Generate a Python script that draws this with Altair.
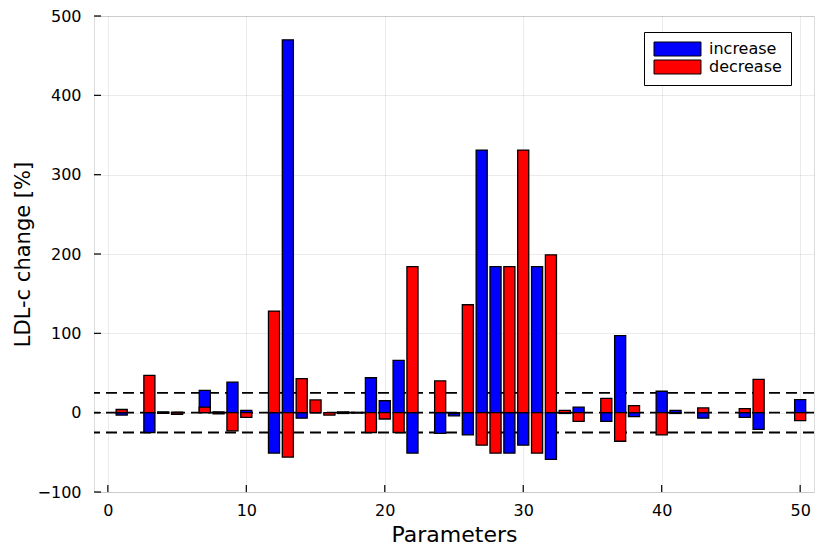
import altair as alt
import pandas as pd

params = [1, 3, 4, 5, 7, 8, 9, 10, 12, 13, 14, 15, 16, 17, 18, 19, 20, 21, 22, 24,
          25, 26, 27, 28, 29, 30, 31, 32, 33, 34, 36, 37, 38, 40, 41, 43, 46, 47, 50]
increase = [-3, -25, 1, 0.5, 28, 1, 38.5, 3, -51, 470, -7, 0, 0, 1, 0.5, 44, 15, 66, -51, -26,
            -4, -28, 331, 184, -51, -41, 184, -59, -1, 7, -11, 97, -5, 27, 3, -7, -6, -21, 16.5]
decrease = [4, 47, -1, -2, 7, -1.5, -23, -6, 128, -56, 43, 16, -3, -1, -0.5, -25, -8, -25, 184, 40,
            -1, 136, -41, -51, 184, 331, -51, 199, 3, -11, 18, -36, 9, -28, -1, 6, 5, 42, -10]
thresholds = [25, 0, -25]
x_ticks = [0, 10, 20, 30, 40, 50]
y_ticks = [-100, 0, 100, 200, 300, 400, 500]

series_names = ["increase", "decrease"]
series_colors = ["#0000FF", "#FF0000"]

bars = pd.DataFrame(
    {"param": params * 2,
     "val": increase + decrease,
     "series": ["increase"] * len(params) + ["decrease"] * len(params)}
)
thr = pd.DataFrame({"v": thresholds})
xt = pd.DataFrame({"t": x_ticks})
yt = pd.DataFrame({"t": y_ticks})

W, H = 720, 476
xscale = alt.Scale(domain=[-1, 51], nice=False, zero=False)
yscale = alt.Scale(domain=[-100, 500], nice=False, zero=False)

font = "DejaVu Sans"

xaxis = alt.Axis(values=x_ticks, title="Parameters", grid=True, gridColor="#000000",
                 gridOpacity=0.08, gridWidth=1, ticks=False, tickSize=0, domain=False,
                 labelFontSize=16, labelPadding=10, labelColor="black", labelFont=font,
                 titleFontSize=22, titleFontWeight="normal", titleFont=font,
                 titleColor="black", titlePadding=6, labelFlush=False)
yaxis = alt.Axis(values=y_ticks, title="LDL-c change [%]", grid=True, gridColor="#000000",
                 gridOpacity=0.08, gridWidth=1, ticks=False, tickSize=0, domain=False,
                 labelFontSize=16, labelPadding=13, labelColor="black", labelFont=font,
                 titleFontSize=21, titleFontWeight="normal", titleFont=font,
                 titleColor="black", titlePadding=4, labelFlush=False)

dashed = alt.Chart(thr).mark_rule(
    strokeDash=[11, 6], strokeWidth=1.8, color="black"
).encode(
    y=alt.Y("v:Q", scale=yscale, axis=yaxis),
)

bar_layer = alt.Chart(bars).transform_calculate(
    lo="datum.param - 0.4", hi="datum.param + 0.4"
).mark_bar(stroke="black", strokeWidth=1.3).encode(
    x=alt.X("lo:Q", scale=xscale, axis=xaxis),
    x2="hi:Q",
    y=alt.Y("val:Q", scale=yscale, axis=yaxis),
    y2=alt.datum(0),
    color=alt.Color(
        "series:N",
        scale=alt.Scale(domain=series_names, range=series_colors),
        sort=series_names,
        legend=alt.Legend(
            title=None, orient="none", legendX=550, legendY=16,
            padding=9, strokeColor="black", fillColor="white",
            symbolType="M-1,-1H5.71V1H-1Z", symbolSize=196,
            symbolStrokeColor="black", symbolStrokeWidth=1, symbolOpacity=1,
            labelFontSize=16, labelFont=font, labelColor="black",
            labelOffset=40, rowPadding=0, cornerRadius=0,
        ),
    ),
)

xtick_layer = alt.Chart(xt).mark_rule(color="black", strokeWidth=1.2).encode(
    x=alt.X("t:Q", scale=xscale),
    y=alt.value(H),
    y2=alt.value(H - 7),
)
ytick_layer = alt.Chart(yt).mark_rule(color="black", strokeWidth=1.2).encode(
    y=alt.Y("t:Q", scale=yscale),
    x=alt.value(0),
    x2=alt.value(7),
)

chart = alt.layer(dashed, bar_layer, xtick_layer, ytick_layer).properties(
    width=W, height=H,
    autosize=alt.AutoSizeParams(type="none"),
    padding={"left": 86, "top": 8, "right": 8, "bottom": 60},
).configure_view(
    stroke="black", strokeWidth=1.6
).configure(background="white")

chart.save("out.html", embed_options={"renderer": "svg", "actions": False})
